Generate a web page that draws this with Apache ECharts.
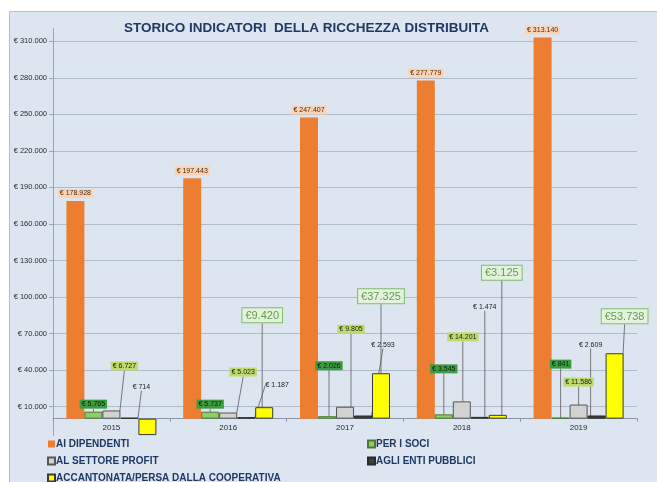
<!DOCTYPE html>
<html>
<head>
<meta charset="utf-8">
<script src="https://cdn.jsdelivr.net/npm/echarts@6/dist/echarts.min.js"></script>
<style>
html, body { margin: 0; padding: 0; background: #fff; }
#main { width: 657px; height: 482px; }
</style>
</head>
<body>
<div id="main"></div>
<script>
// dati
const anni = ['2015', '2016', '2017', '2018', '2019'];
const aiDipendenti = [178928, 197443, 247407, 277779, 313140];
const perISoci = [5765, 5737, 2026, 3545, 841];
const settoreProfit = [6727, 5023, 9805, 14201, 11586];
const entiPubblici = [714, 1187, 2593, 1474, 2609];
const accantonata = [-13500, 9420, 37325, 3125, 53738];

const nomi = ['AI DIPENDENTI', 'PER I SOCI', 'AL SETTORE PROFIT', 'AGLI ENTI PUBBLICI', 'ACCANTONATA/PERSA DALLA COOPERATIVA'];

// spostamento etichette (stile excel con linee guida)
const spostaSoci = [[0, 0], [0, 0], [2, -43], [0, -38], [0, -46]];
const spostaProfit = [[13, -37], [15, -33], [6, -70], [1, -57], [0, -15]];
const spostaEnti = [[12, -23], [31, -25], [20, -63], [5, -102], [-6, -63]];
const spostaAcc = [[0, 0], [-2, -82], [0, -67], [4, -132], [10, -27]];

const yMin = -20000;
const yMax = 321000;

function migliaia(v) {
	return Math.abs(Math.round(v)).toString().replace(/\B(?=(\d{3})+(?!\d))/g, '.');
}
function euro(v) {
	return (v < 0 ? '-€ ' : '€ ') + migliaia(v);
}

const bg = '#dde6f0';
const font = 'Liberation Sans, Arial, sans-serif';
const gridTop = 28, gridBottom = 39;
// l'asse delle categorie sta sullo zero: spostamento dal fondo della griglia
const altezzaGriglia = 482 - gridTop - gridBottom;
const offsetZero = -altezzaGriglia * (0 - yMin) / (yMax - yMin);

let myChart = echarts.init(document.getElementById('main'));

function serie(nome, dati, colore, bordo, label, sposta) {
	let s = {
		name: nome,
		type: 'bar',
		barWidth: 18,
		barGap: '0%',
		data: dati,
		itemStyle: { color: colore, borderColor: bordo, borderWidth: bordo ? 1 : 0 },
		label: label,
		z: 2
	};
	if (sposta) {
		s.labelLine = { show: true, lineStyle: { color: '#5a5a5a', width: 0.8 } };
		s.labelLayout = function (p) {
			let d = sposta[p.dataIndex];
			return { dx: d[0], dy: d[1] };
		};
	}
	return s;
}

const etichettaPiccola = {
	show: true,
	position: 'top',
	distance: 3,
	fontFamily: font,
	fontSize: 7,
	color: '#1a1a1a',
	padding: [1, 2, 1, 2],
	formatter: p => euro(p.value)
};

const stileLegenda = {
	orient: 'vertical',
	top: 433,
	height: 80,
	itemWidth: 7,
	itemHeight: 7,
	itemGap: 5,
	icon: 'rect',
	textStyle: { fontFamily: font, fontSize: 10, lineHeight: 12, fontWeight: 'bold', color: '#1f3864', padding: [0, 0, 0, -4] }
};

myChart.setOption({
	backgroundColor: '#fff',
	animation: false,
	graphic: [
		{
			type: 'rect',
			shape: { x: 9.5, y: 11.5, width: 660, height: 480 },
			style: { fill: bg, stroke: '#b4c0d0', lineWidth: 1 },
			z: -10
		},
		{
			// il riquadro della legenda copre l'etichetta minima dell'asse
			type: 'rect',
			shape: { x: 13, y: 436, width: 640, height: 46 },
			style: { fill: bg },
			z: 3
		}
	],
	title: {
		text: 'STORICO INDICATORI  DELLA RICCHEZZA DISTRIBUITA',
		left: 119,
		top: 16,
		textStyle: { fontFamily: font, fontSize: 13.5, fontWeight: 'bold', color: '#1f3864' }
	},
	legend: [
		Object.assign({ data: [nomi[0], nomi[2], nomi[4]], left: 42 }, stileLegenda),
		Object.assign({ data: [nomi[1], nomi[3]], left: 362 }, stileLegenda)
	],
	grid: {
		left: 53,
		right: 20,
		top: gridTop,
		bottom: gridBottom
	},
	xAxis: {
		type: 'category',
		data: anni,
		offset: offsetZero,
		axisLine: { onZero: false, lineStyle: { color: '#8a96a6', width: 1 } },
		axisTick: { show: true, alignWithLabel: false, length: 3, lineStyle: { color: '#8a96a6' } },
		axisLabel: { fontFamily: font, fontSize: 8, color: '#2a2a2a', margin: 5 }
	},
	yAxis: {
		type: 'value',
		min: yMin,
		max: yMax,
		interval: 30000,
		axisLine: { show: true, lineStyle: { color: '#9aa6b6' } },
		axisTick: { show: true, length: 4, lineStyle: { color: '#9aa6b6' } },
		splitLine: { show: true, showMaxLine: false, lineStyle: { color: '#aebccc', width: 1 } },
		axisLabel: {
			fontFamily: font,
			fontSize: 7.5,
			color: '#2a2a2a',
			margin: 6,
			showMaxLabel: false,
			formatter: v => euro(v)
		}
	},
	series: [
		serie(nomi[0], aiDipendenti, '#ed7d31', null, Object.assign({}, etichettaPiccola, {
			backgroundColor: '#fbd3b5',
			color: '#4a2a10'
		}), null),
		serie(nomi[1], perISoci, '#92cc6a', '#4a7a30', Object.assign({}, etichettaPiccola, {
			backgroundColor: '#3c9c40',
			color: '#0e1e0e'
		}), spostaSoci),
		serie(nomi[2], settoreProfit, '#d2d2d2', '#555555', Object.assign({}, etichettaPiccola, {
			backgroundColor: '#bddc6c',
			color: '#1a1a1a'
		}), spostaProfit),
		serie(nomi[3], entiPubblici, '#3f3f3f', '#2a2a2a', Object.assign({}, etichettaPiccola), spostaEnti),
		serie(nomi[4], accantonata.map((v, i) => i === 0 ? { value: v, label: { show: false } } : v), '#ffff00', '#3a3a3a', {
			show: true,
			position: 'top',
			distance: 3,
			fontFamily: font,
			fontSize: 11,
			color: '#5f9f52',
			backgroundColor: '#e4f1dc',
			borderColor: '#7fbf6a',
			borderWidth: 1,
			padding: [2, 3, 1, 3],
			formatter: p => '€' + migliaia(p.value)
		}, spostaAcc)
	]
});
</script>
</body>
</html>
